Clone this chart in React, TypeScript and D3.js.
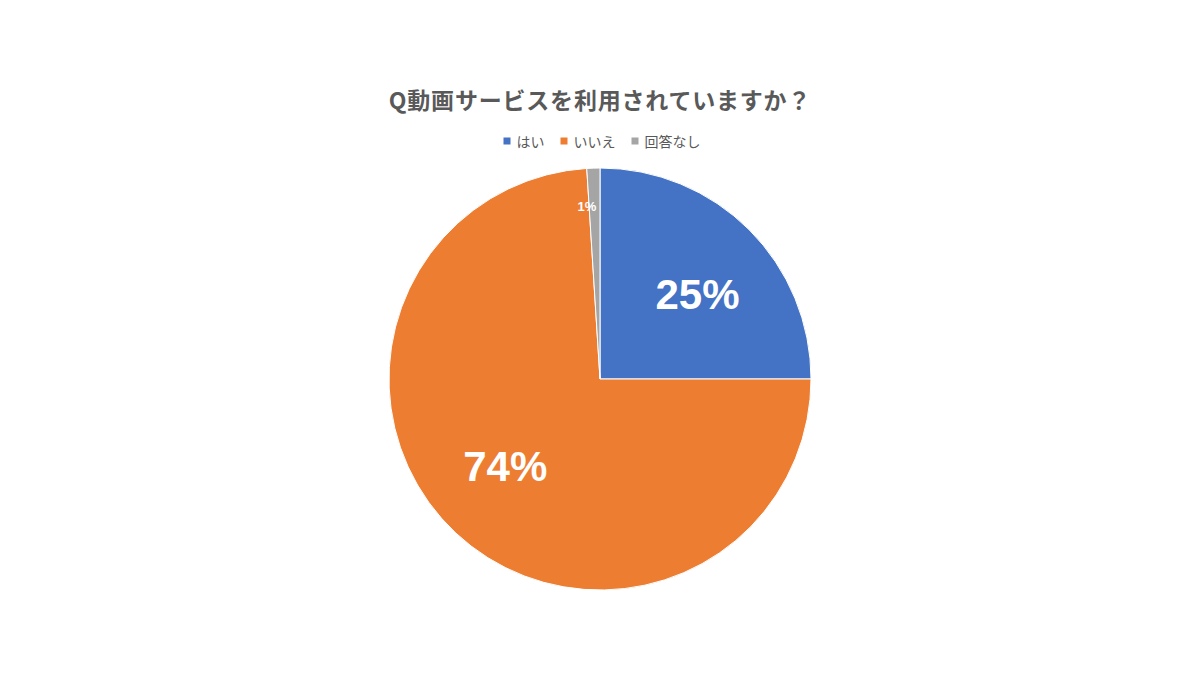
import React from "react";
import * as d3 from "d3";

const categories = ["はい", "いいえ", "回答なし"];
const values = [25, 74, 1];
const colors = ["#4472C4", "#ED7D31", "#A5A5A5"];
const title = "Q動画サービスを利用されていますか？";

export default function App() {
  const W = 1200, H = 675;
  const cx = 600, cy = 379, R = 211;
  const pie = d3.pie<number>().sort(null).value((d) => d)(values);
  const arc = d3.arc<d3.PieArcDatum<number>>().innerRadius(0).outerRadius(R);
  const font = "'Noto Sans CJK JP', 'Noto Sans', sans-serif";
  const numFont = "'Liberation Sans', Arial, sans-serif";

  // legend layout
  const legendFont = 14;
  const sq = 7;
  const items = categories.map((c, i) => ({ c, i, w: 13 + c.length * legendFont }));
  const gap = 16;
  const totalW = items.reduce((s, it) => s + it.w, 0) + gap * (items.length - 1);
  let lx = 602 - totalW / 2;
  const legendPos = items.map((it) => {
    const x = lx;
    lx += it.w + gap;
    return { ...it, x };
  });

  return (
    <svg width={W} height={H} style={{ position: "absolute", left: 0, top: 0, background: "#fff" }}>
      <rect width={W} height={H} fill="#fff" />
      <text x={600} y={109} textAnchor="middle" fontFamily={font} fontSize={23} letterSpacing={0.8} fontWeight="bold" fill="#595959">
        {title}
      </text>
      {legendPos.map((it) => (
        <g key={it.c}>
          <rect x={it.x} y={137.5} width={sq} height={sq} fill={colors[it.i]} />
          <text x={it.x + 13} y={146.5} fontFamily={font} fontSize={legendFont} fill="#595959">
            {it.c}
          </text>
        </g>
      ))}
      <g transform={`translate(${cx},${cy})`}>
        {pie.map((d, i) => (
          <path key={i} d={arc(d) || ""} fill={colors[i]} stroke="#fff" strokeWidth={1} />
        ))}
        {pie.map((d, i) => {
          const small = d.value < 5;
          const mid = (d.startAngle + d.endAngle) / 2 + (small ? -0.045 : 0.07);
          const r = small ? R * 0.82 : R * 0.612;
          const x = Math.sin(mid) * r;
          const y = -Math.cos(mid) * r;
          return (
            <text
              key={"l" + i}
              x={x}
              y={y}
              textAnchor="middle"
              dominantBaseline="central"
              fontFamily={numFont}
              fontSize={small ? 13 : 42}
              fontWeight="bold"
              fill="#fff"
            >
              {d.value + "%"}
            </text>
          );
        })}
      </g>
    </svg>
  );
}
